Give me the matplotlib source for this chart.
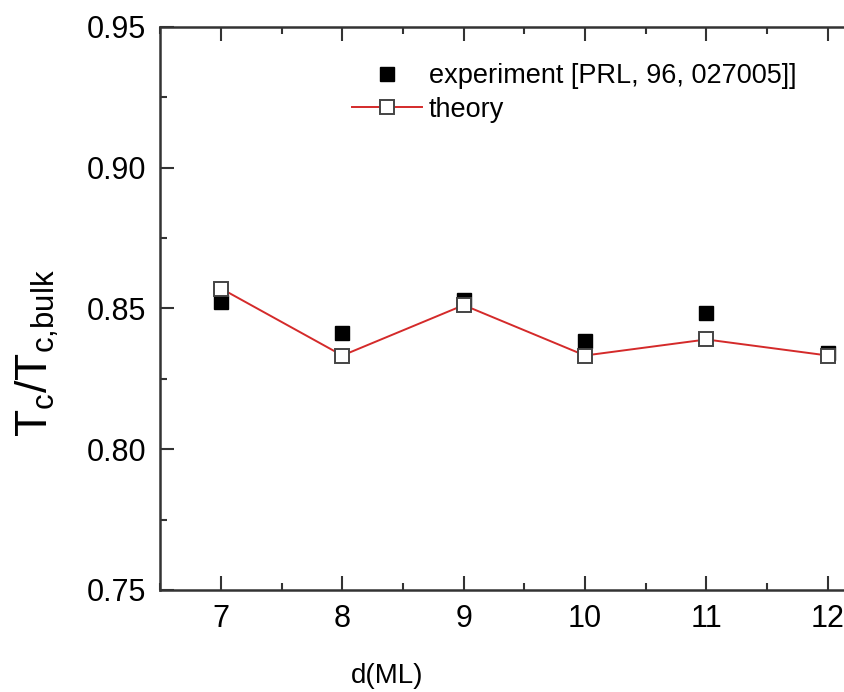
from matplotlib import pyplot as plt
from matplotlib.ticker import MultipleLocator

plt.rcParams['font.family'] = ['Liberation Sans', 'DejaVu Sans']
plt.rcParams['mathtext.fontset'] = 'custom'
plt.rcParams['mathtext.rm'] = 'Liberation Sans'
plt.rcParams['mathtext.it'] = 'Liberation Sans'

# thickness d (ML)
d_ml = [7, 8, 9, 10, 11, 12]
tc_experiment = [0.8523, 0.8413, 0.8530, 0.8385, 0.8484, 0.8342]
tc_theory = [0.8571, 0.8333, 0.8512, 0.8333, 0.8390, 0.8333]

fig = plt.figure(figsize=(8.44, 6.92), dpi=100)
# the right part of the frame is cut off in the original
ax = fig.add_axes([0.19, 0.1474, 0.8626, 0.8136])

ax.plot(d_ml, tc_experiment, 's', color='black', markersize=10.5,
        label='experiment [PRL, 96, 027005]]', zorder=3)
ax.plot(d_ml, tc_theory, '-s', color='#d42a2a', lw=1.4, markersize=10.5,
        markerfacecolor='white', markeredgecolor='#444444', markeredgewidth=1.4,
        label='theory', zorder=4)

ax.set_xlim(6.5, 12.5)
ax.set_ylim(0.75, 0.95)
ax.xaxis.set_major_locator(MultipleLocator(1))
ax.xaxis.set_minor_locator(MultipleLocator(0.5))
ax.yaxis.set_minor_locator(MultipleLocator(0.025))
ax.set_yticks([0.75, 0.80, 0.85, 0.90, 0.95])
ax.set_yticklabels(['0.75', '0.80', '0.85', '0.90', '0.95'])
ax.tick_params(which='both', direction='in', top=True, right=True, width=1.5,
               color='#333333')
ax.tick_params(which='major', length=10, labelsize=22, pad=10)
ax.tick_params(which='minor', length=5)
for s in ax.spines.values():
    s.set_linewidth(1.8)
    s.set_color('#333333')

ax.set_xlabel('d(ML)', fontsize=20, va='top')
ax.xaxis.set_label_coords(0.312, -0.13)
ax.set_ylabel(r'T$_\mathrm{c}$/T$_\mathrm{c{,}bulk}$', fontsize=32)
ax.yaxis.set_label_coords(-0.137, 0.42)

ax.legend(loc='upper left', bbox_to_anchor=(0.263, 0.936), frameon=False,
          fontsize=19.5, handlelength=2.6, handletextpad=0.25, labelspacing=0.28,
          borderpad=0, borderaxespad=0)

fig.savefig('out.png', dpi=100)
